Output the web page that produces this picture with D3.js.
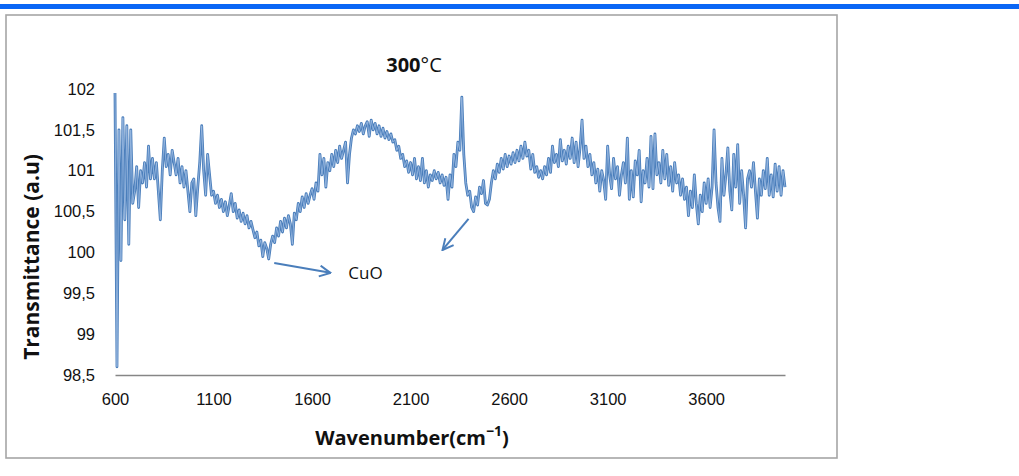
<!DOCTYPE html>
<html lang="en">
<head>
    <meta charset="UTF-8">
    <title>FTIR 300°C</title>
    <script src="https://d3js.org/d3.v7.min.js"></script>
    <style>
        body { margin: 0; background: #fff; }
        svg { display: block; font-family: "Open Sans", Lato, sans-serif; }
        .tick-label { font-size: 16.5px; fill: #111; }
        .axis-title { font-size: 20px; font-weight: bold; fill: #111; }
    </style>
</head>
<body>
    <svg width="1019" height="476"></svg>
    <script>
        // wavenumber grid (cm-1), one row per hundred
        const wavenumber = [
            600, 610, 620, 630, 640, 650, 660, 670, 680, 690,
            700, 710, 720, 730, 740, 750, 760, 770, 780, 790,
            800, 810, 820, 830, 840, 850, 860, 870, 880, 890,
            900, 910, 920, 930, 940, 950, 960, 970, 980, 990,
            1000, 1010, 1020, 1030, 1040, 1050, 1060, 1070, 1080, 1090,
            1100, 1110, 1120, 1130, 1140, 1150, 1160, 1170, 1180, 1190,
            1200, 1210, 1220, 1230, 1240, 1250, 1260, 1270, 1280, 1290,
            1300, 1310, 1320, 1330, 1340, 1350, 1360, 1370, 1380, 1390,
            1400, 1410, 1420, 1430, 1440, 1450, 1460, 1470, 1480, 1490,
            1500, 1510, 1520, 1530, 1540, 1550, 1560, 1570, 1580, 1590,
            1600, 1610, 1620, 1630, 1640, 1650, 1660, 1670, 1680, 1690,
            1700, 1710, 1720, 1730, 1740, 1750, 1760, 1770, 1780, 1790,
            1800, 1810, 1820, 1830, 1840, 1850, 1860, 1870, 1880, 1890,
            1900, 1910, 1920, 1930, 1940, 1950, 1960, 1970, 1980, 1990,
            2000, 2010, 2020, 2030, 2040, 2050, 2060, 2070, 2080, 2090,
            2100, 2110, 2120, 2130, 2140, 2150, 2160, 2170, 2180, 2190,
            2200, 2210, 2220, 2230, 2240, 2250, 2260, 2270, 2280, 2290,
            2300, 2310, 2320, 2330, 2340, 2350, 2360, 2370, 2380, 2390,
            2400, 2410, 2420, 2430, 2440, 2450, 2460, 2470, 2480, 2490,
            2500, 2510, 2520, 2530, 2540, 2550, 2560, 2570, 2580, 2590,
            2600, 2610, 2620, 2630, 2640, 2650, 2660, 2670, 2680, 2690,
            2700, 2710, 2720, 2730, 2740, 2750, 2760, 2770, 2780, 2790,
            2800, 2810, 2820, 2830, 2840, 2850, 2860, 2870, 2880, 2890,
            2900, 2910, 2920, 2930, 2940, 2950, 2960, 2970, 2980, 2990,
            3000, 3010, 3020, 3030, 3040, 3050, 3060, 3070, 3080, 3090,
            3100, 3110, 3120, 3130, 3140, 3150, 3160, 3170, 3180, 3190,
            3200, 3210, 3220, 3230, 3240, 3250, 3260, 3270, 3280, 3290,
            3300, 3310, 3320, 3330, 3340, 3350, 3360, 3370, 3380, 3390,
            3400, 3410, 3420, 3430, 3440, 3450, 3460, 3470, 3480, 3490,
            3500, 3510, 3520, 3530, 3540, 3550, 3560, 3570, 3580, 3590,
            3600, 3610, 3620, 3630, 3640, 3650, 3660, 3670, 3680, 3690,
            3700, 3710, 3720, 3730, 3740, 3750, 3760, 3770, 3780, 3790,
            3800, 3810, 3820, 3830, 3840, 3850, 3860, 3870, 3880, 3890,
            3900, 3910, 3920, 3930, 3940, 3950, 3960, 3970, 3980, 3990,
            4000
        ];
        // transmittance (a.u)
        const transmittance = [
            101.95, 98.6, 101.5, 99.9, 101.65, 100.4, 101.55, 100.1, 101.5, 100.6,
            100.75, 101.05, 100.55, 101.0, 100.85, 101.1, 100.8, 101.3, 100.9, 101.15,
            100.9, 101.1, 100.75, 100.4, 101.0, 101.4, 101.05, 101.2, 100.95, 101.25,
            101.1, 100.95, 101.15, 100.85, 101.05, 100.8, 101.0, 100.75, 100.5, 100.85,
            100.9, 100.45, 100.8, 101.1, 101.55, 101.0, 100.7, 101.2, 100.95, 100.7,
            100.75, 100.6, 100.7, 100.55, 100.65, 100.5, 100.62, 100.45, 100.58, 100.72,
            100.5, 100.6, 100.42, 100.52, 100.38, 100.48, 100.35, 100.45, 100.3, 100.38,
            100.28, 100.18, 100.25, 100.08, 100.15, 99.95, 100.12, 100.05, 99.92, 100.1,
            100.2, 100.12, 100.3, 100.2, 100.38, 100.25, 100.42, 100.3, 100.45, 100.35,
            100.1, 100.48, 100.4, 100.6, 100.5, 100.68, 100.55, 100.72, 100.6, 100.7,
            100.78, 100.65, 100.85, 100.75, 101.2, 100.95, 101.15, 100.8, 101.1, 101.0,
            101.2, 101.05, 101.25, 101.1, 101.3, 101.15, 101.25, 101.35, 100.85, 101.2,
            101.4, 101.5, 101.45, 101.55, 101.48, 101.58, 101.45, 101.55, 101.6, 101.42,
            101.62, 101.5, 101.58, 101.45, 101.55, 101.42, 101.52, 101.4, 101.48, 101.38,
            101.45, 101.35, 101.38, 101.25, 101.3, 101.15, 101.2, 101.05, 101.12, 100.98,
            101.1, 100.95, 101.15, 100.9, 101.05, 100.88, 101.15, 100.85, 101.0, 100.8,
            100.95, 100.88, 101.0, 100.9, 100.98, 100.85, 100.95, 100.82, 100.92, 100.65,
            100.95, 100.8, 101.2, 101.05, 101.35, 101.25, 101.9, 101.2, 100.85, 100.7,
            100.75, 100.55, 100.5, 100.68, 100.58, 100.8, 100.72, 100.88, 100.6, 100.58,
            100.65, 100.85, 101.0, 100.9, 101.08, 100.98, 101.15, 101.02, 101.2, 101.05,
            101.18, 101.08, 101.22, 101.1, 101.25, 101.12, 101.3, 101.15, 101.35, 101.18,
            101.25, 101.02, 101.2, 100.98, 101.05, 100.92, 101.0, 100.9, 101.05, 100.95,
            101.15, 100.98, 101.3, 101.1, 101.2, 101.05, 101.38, 101.12, 101.25, 101.08,
            101.3, 101.15, 101.4, 101.1, 101.35, 101.05, 101.28, 101.62, 101.15, 101.3,
            101.05, 101.2, 100.95, 101.1, 100.85, 101.02, 100.75, 101.0, 100.88, 100.65,
            101.3, 100.95, 100.78, 101.15, 100.9, 101.05, 100.7, 100.95, 101.1, 100.85,
            101.4, 100.65, 101.0, 100.68, 101.12, 100.95, 101.25, 100.62, 101.0, 100.85,
            101.15, 100.8, 101.42, 100.78, 101.45, 100.95, 101.1, 100.85, 101.25, 100.9,
            101.2, 100.82, 101.05, 100.75, 101.1, 100.85, 100.95, 100.7, 100.9, 100.65,
            100.8, 100.45, 100.75, 100.55, 100.95, 100.6, 100.35, 100.7, 100.5, 100.85,
            100.6, 100.9, 100.55, 100.8, 101.5, 100.85, 100.55, 100.38, 101.15, 100.7,
            100.95, 101.28, 100.75, 100.52, 101.2, 100.8, 101.32, 100.6, 101.0, 100.7,
            100.3, 100.9, 101.0, 100.8, 101.1, 100.75, 100.42, 100.9, 100.7, 101.0,
            100.78, 101.15, 100.7, 100.95, 100.68, 101.08, 100.75, 101.05, 100.7, 101.0,
            100.8
        ];
        const xTicks = [600, 1100, 1600, 2100, 2600, 3100, 3600];
        const yTicks = [98.5, 99, 99.5, 100, 100.5, 101, 101.5, 102];
        // CuO annotation arrows, in data units
        const arrows = [
            { from: [1408, 99.87], to: [1693, 99.75] },
            { from: [2394, 100.41], to: [2262, 100.03] }
        ];
        const label = { text: "CuO", at: [1784, 99.68] };

        const svg = d3.select("svg");
        const blue = "#4a7ebb";

        // page decoration: blue rule and chart frame
        svg.append("rect").attr("x", 0).attr("y", 4).attr("width", 1019).attr("height", 5).attr("fill", "#0a66f5");
        svg.append("rect")
            .attr("x", 6).attr("y", 15).attr("width", 831).attr("height", 443)
            .attr("fill", "#fff").attr("stroke", "#a6a6a6").attr("stroke-width", 1.6);

        const x = d3.scaleLinear().domain([600, 4000]).range([115, 785]);
        const y = d3.scaleLinear().domain([98.5, 102]).range([375, 89]);

        const fmt = d => String(d).replace(".", ",");

        const xAxis = svg.append("g")
            .attr("transform", `translate(0,${y(98.5)})`)
            .call(d3.axisBottom(x).tickValues(xTicks).tickFormat(d => String(d)).tickSize(0).tickPadding(18));
        xAxis.select(".domain").attr("stroke", "#868686").attr("stroke-width", 1.5);
        xAxis.selectAll("text").attr("class", "tick-label").attr("font-family", null).attr("font-size", null);

        const yAxis = svg.append("g")
            .attr("transform", `translate(${x(600)},0)`)
            .call(d3.axisLeft(y).tickValues(yTicks).tickFormat(fmt).tickSize(0).tickPadding(20));
        yAxis.select(".domain").remove();
        yAxis.selectAll("text").attr("class", "tick-label").attr("font-family", null).attr("font-size", null);

        const points = wavenumber.map((w, i) => [w, transmittance[i]]);
        const line = d3.line().x(d => x(d[0])).y(d => y(d[1]));

        svg.append("path").datum(points)
            .attr("d", line).attr("fill", "none")
            .attr("stroke", blue).attr("stroke-width", 2.8).attr("stroke-linejoin", "round");
        svg.append("path").datum(points)
            .attr("d", line).attr("fill", "none")
            .attr("stroke", "#a9c4e8").attr("stroke-width", 0.7).attr("stroke-linejoin", "round");

        // arrows
        svg.append("defs").append("marker")
            .attr("id", "head").attr("viewBox", "0 0 12 12")
            .attr("refX", 11).attr("refY", 6)
            .attr("markerWidth", 13).attr("markerHeight", 13)
            .attr("markerUnits", "userSpaceOnUse")
            .attr("orient", "auto")
            .append("path").attr("d", "M1,1 L11,6 L1,11")
            .attr("fill", "none").attr("stroke", blue).attr("stroke-width", 1.8);

        svg.selectAll(".arrow").data(arrows).enter().append("line")
            .attr("class", "arrow")
            .attr("x1", d => x(d.from[0])).attr("y1", d => y(d.from[1]))
            .attr("x2", d => x(d.to[0])).attr("y2", d => y(d.to[1]))
            .attr("stroke", blue).attr("stroke-width", 2)
            .attr("marker-end", "url(#head)");

        svg.append("text")
            .attr("x", x(label.at[0])).attr("y", y(label.at[1]))
            .attr("font-size", 17).attr("fill", "#111")
            .text(label.text);

        // title
        const title = svg.append("text")
            .attr("x", 414).attr("y", 72).attr("text-anchor", "middle")
            .attr("font-size", 20).attr("fill", "#111");
        title.append("tspan").attr("font-weight", "bold").text("300");
        title.append("tspan").text("°C");

        // axis titles
        svg.append("text")
            .attr("class", "axis-title")
            .attr("transform", "translate(39,257) rotate(-90)")
            .attr("text-anchor", "middle")
            .attr("font-size", 21)
            .style("font-size", "21px")
            .text("Transmittance (a.u)");

        const xt = svg.append("text")
            .attr("class", "axis-title")
            .attr("x", 412).attr("y", 445)
            .attr("text-anchor", "middle");
        xt.append("tspan").text("Wavenumber(cm");
        xt.append("tspan").attr("dy", -9).attr("font-size", 14).text("−1");
        xt.append("tspan").attr("dy", 9).text(")");
    </script>
</body>
</html>
